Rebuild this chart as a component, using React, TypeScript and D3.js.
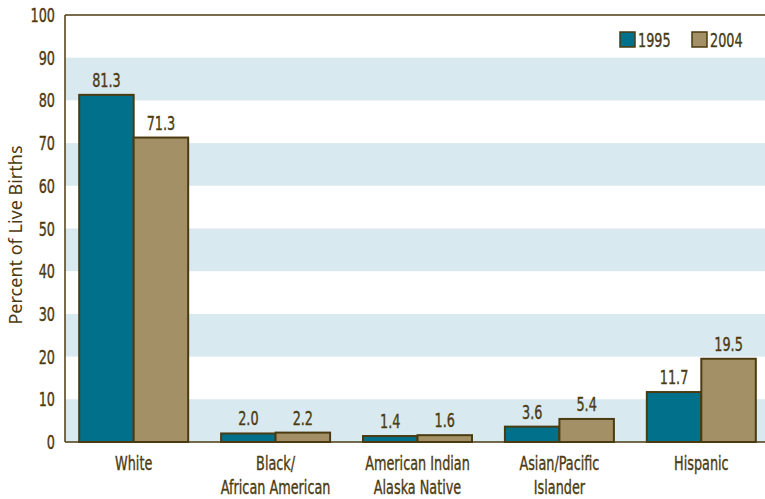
import * as d3 from "d3";
import React from "react";

const categories = [
  ["White"],
  ["Black/", "African American"],
  ["American Indian", "Alaska Native"],
  ["Asian/Pacific", "Islander"],
  ["Hispanic"],
];
const years = ["1995", "2004"];
const values1995 = [81.3, 2.0, 1.4, 3.6, 11.7];
const values2004 = [71.3, 2.2, 1.6, 5.4, 19.5];
const yTicks = [0, 10, 20, 30, 40, 50, 60, 70, 80, 90, 100];

const W = 765;
const H = 499;
const FONT = "'DejaVu Sans Condensed', 'Liberation Sans Narrow', sans-serif";
const INK = "#4b3b10";
const colors = ["#00708b", "#a39066"];
const BAND = "#d9e9f0";

// narrow text, squeezed horizontally to look like a condensed face
const Label = ({ x, y, anchor = "middle", children }: any) => (
  <text
    transform={`translate(${x},${y}) scale(0.75,1)`}
    textAnchor={anchor}
    fill={INK}
    stroke={INK}
    strokeWidth={0.35}
    fontSize={19}
  >
    {children}
  </text>
);

const App: React.FC = () => {
  const margin = { top: 15, right: -5, bottom: 57, left: 65 };
  const names = categories.map((c) => c.join(" "));
  const x = d3
    .scaleBand()
    .domain(names)
    .range([margin.left, W - margin.right])
    .paddingInner(0.232)
    .paddingOuter(0.1);
  const x1 = d3.scaleBand().domain(years).range([0, x.bandwidth()]);
  const y = d3.scaleLinear().domain([0, 100]).range([H - margin.bottom, margin.top]);
  const series = [values1995, values2004];

  return (
    <svg width={W} height={H} style={{ position: "absolute", left: 0, top: 0, fontFamily: FONT }}>
      {/* alternating bands */}
      {yTicks.slice(0, -1).filter((t) => t % 20 === 0).map((t) => (
        <rect
          key={t}
          x={margin.left}
          y={y(t + 10)}
          width={W - margin.left}
          height={y(t) - y(t + 10)}
          fill={BAND}
        />
      ))}

      {/* y ticks */}
      {yTicks.map((t) => (
        <Label key={t} x={55} y={y(t) + 7} anchor="end">
          {t}
        </Label>
      ))}
      <text
        transform={`translate(22,${235}) rotate(-90)`}
        textAnchor="middle"
        fill={INK}
        fontSize={18}
        fontFamily="'Noto Sans', 'Open Sans', sans-serif"
      >
        Percent of Live Births
      </text>

      {/* bars */}
      {names.map((n, i) => (
        <g key={n} transform={`translate(${x(n)},0)`}>
          {series.map((vals, s) => (
            <g key={s}>
              <rect
                x={x1(years[s])}
                y={y(vals[i])}
                width={x1.bandwidth()}
                height={y(0) - y(vals[i])}
                fill={colors[s]}
                stroke={INK}
                strokeWidth={2}
              />
              <Label x={x1(years[s])! + x1.bandwidth() / 2} y={y(vals[i]) - 8}>
                {vals[i].toFixed(1)}
              </Label>
            </g>
          ))}
          {categories[i].map((line, k) => (
            <Label key={k} x={x.bandwidth() / 2} y={H - margin.bottom + 28 + k * 24}>
              {line}
            </Label>
          ))}
        </g>
      ))}

      {/* axes */}
      <line x1={margin.left} x2={margin.left} y1={y(100)} y2={y(0)} stroke={INK} strokeWidth={1.5} />
      <line x1={margin.left} x2={W} y1={y(100)} y2={y(100)} stroke={INK} strokeWidth={1.5} />
      <line x1={margin.left} x2={W} y1={y(0)} y2={y(0)} stroke={INK} strokeWidth={1.5} />

      {/* legend */}
      {years.map((yr, s) => (
        <g key={yr} transform={`translate(${620 + s * 72},32)`}>
          <rect width={15} height={15} fill={colors[s]} stroke={INK} strokeWidth={1.5} />
          <Label x={18} y={14.5} anchor="start">
            {yr}
          </Label>
        </g>
      ))}
    </svg>
  );
};

export default App;
